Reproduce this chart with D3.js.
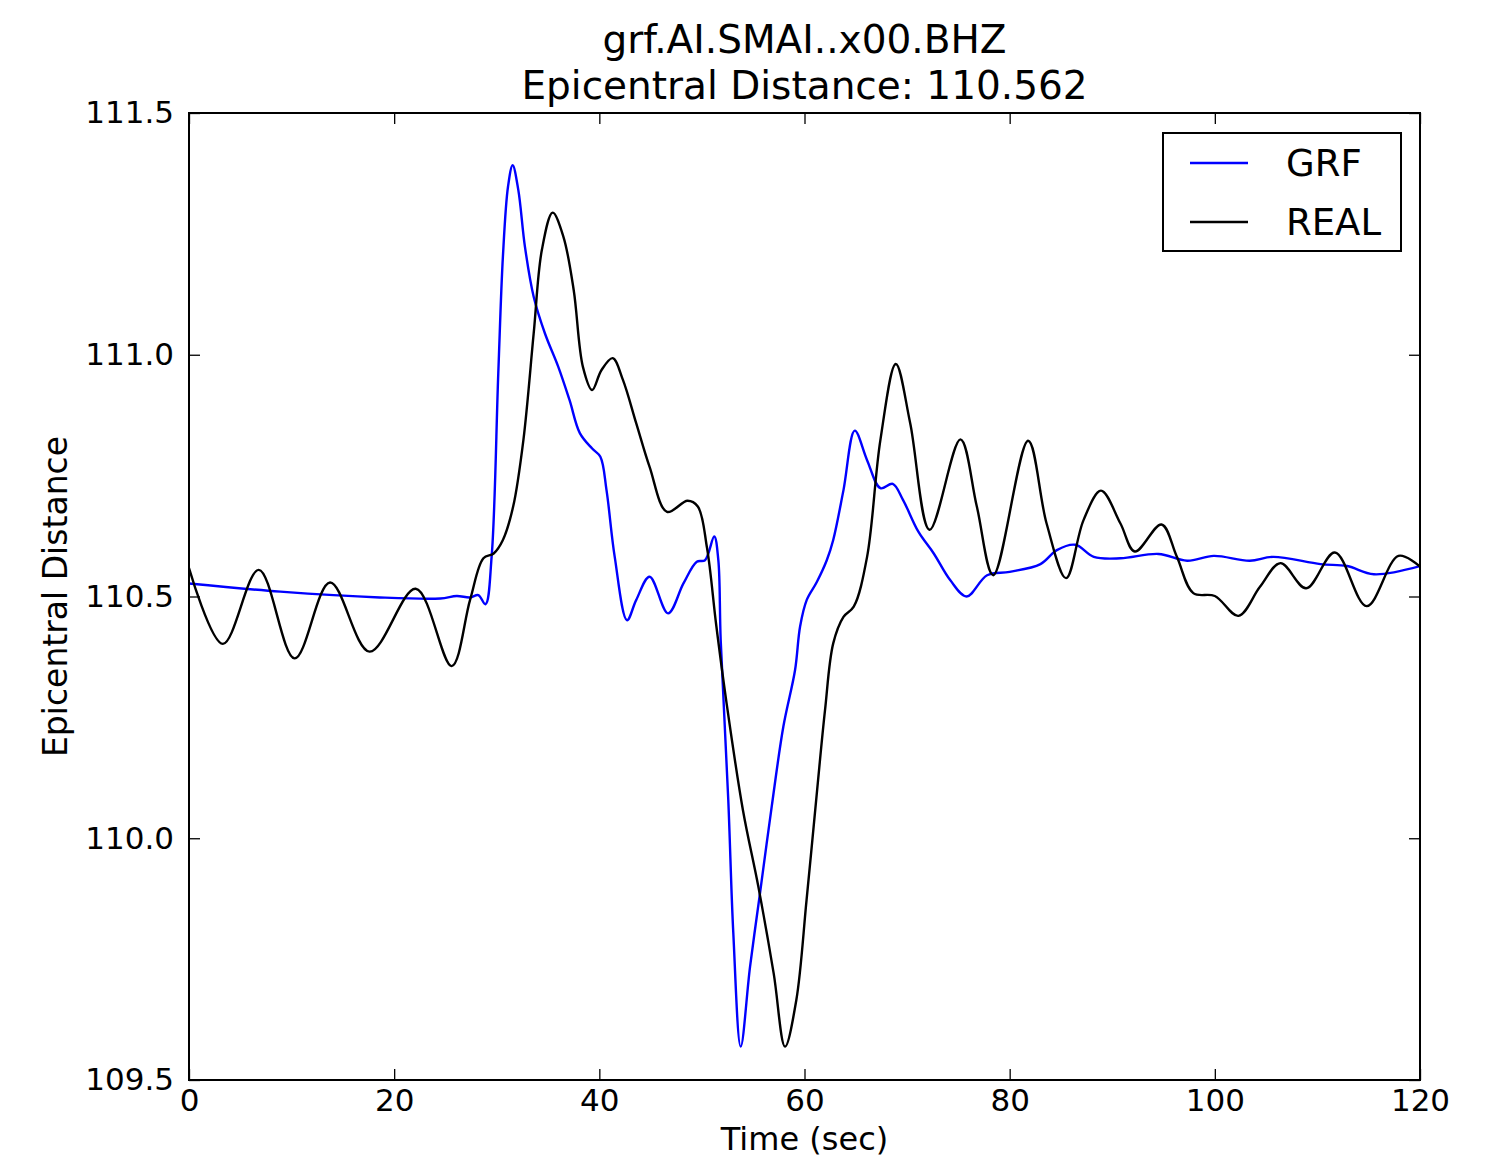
<!DOCTYPE html>
<html>
<head>
<meta charset="utf-8">
<script src="https://cdn.jsdelivr.net/npm/d3@7"></script>
<style>
  html, body { margin: 0; padding: 0; background: #fff; }
  svg { display: block; font-family: "DejaVu Sans", sans-serif; }
</style>
</head>
<body>
<svg id="chart" width="1487" height="1161"></svg>
<script>
// Trace times (sec) and epicentral-distance values for each series
const grfTime = [0, 8.9, 18.6, 24.5, 26.1, 27.4, 28.2, 28.9, 29.5, 30.15, 30.6, 31.1, 31.55, 32.1, 32.75,
  33.6, 34.7, 36.0, 37.1, 38.1, 39.3, 40.1, 40.7, 41.5, 42.7, 43.6, 44.9, 46.7, 48.2, 49.5, 50.3,
  51.2, 51.6, 51.83, 52.57, 53.06, 53.78, 54.69, 55.66, 56.8, 57.94, 59.08, 59.57, 60.22, 61.2,
  62.17, 62.8, 63.8, 64.9, 66.1, 67.4, 68.6, 69.6, 71.1, 72.6, 74.2, 75.8, 77.8, 80.0, 83.0, 84.6,
  86.4, 88.2, 90.8, 94.5, 97.3, 99.9, 103.4, 105.7, 110.3, 112.9, 115.5, 120];
const grfValue = [110.527, 110.51, 110.498, 110.496, 110.501, 110.498, 110.503, 110.484, 110.582, 110.962,
  111.203, 111.348, 111.392, 111.341, 111.223, 111.12, 111.044, 110.975, 110.906, 110.838, 110.806,
  110.789, 110.72, 110.582, 110.451, 110.493, 110.541, 110.465, 110.527, 110.572, 110.575, 110.624,
  110.575, 110.41, 110.079, 109.804, 109.569, 109.734, 109.886, 110.065, 110.231, 110.348, 110.438,
  110.493, 110.53, 110.575, 110.617, 110.72, 110.843, 110.782, 110.724, 110.733, 110.7, 110.634,
  110.589, 110.534, 110.5, 110.544, 110.551, 110.567, 110.596, 110.607, 110.582, 110.579, 110.588,
  110.574, 110.584, 110.574, 110.582, 110.567, 110.563, 110.546, 110.563];

const realTime = [0, 3.3, 6.8, 10.3, 13.75, 17.6, 22.1, 25.6, 27.4, 28.7, 29.7, 30.6, 31.6, 32.6, 33.6,
  34.4, 35.45, 36.5, 37.5, 38.4, 39.3, 40.2, 41.3, 42.3, 43.6, 44.9, 46.6, 48.6, 49.6, 50.5, 51.4,
  52.4, 54.0, 55.5, 57.0, 58.1, 59.2, 60.2, 61.2, 62.0, 62.8, 63.8, 64.8, 66.1, 67.4, 68.9, 70.3,
  72.2, 75.2, 76.8, 78.4, 81.8, 83.6, 85.5, 87.2, 88.9, 90.8, 92.2, 94.8, 96.3, 97.9, 100.0, 102.3,
  104.4, 106.4, 108.9, 111.7, 114.8, 117.9, 120];
const realValue = [110.559, 110.402, 110.555, 110.372, 110.529, 110.386, 110.516, 110.356, 110.493,
  110.579, 110.589, 110.617, 110.686, 110.824, 111.044, 111.217, 111.294, 111.244, 111.134, 110.975,
  110.927, 110.968, 110.993, 110.948, 110.858, 110.768, 110.675, 110.698, 110.686, 110.6, 110.44,
  110.28, 110.058, 109.9, 109.72, 109.569, 109.665, 109.872, 110.093, 110.265, 110.403, 110.458,
  110.479, 110.582, 110.824, 110.981, 110.859, 110.638, 110.825, 110.686, 110.544, 110.822, 110.651,
  110.538, 110.658, 110.719, 110.651, 110.593, 110.649, 110.582, 110.507, 110.501, 110.46, 110.52,
  110.569, 110.517, 110.591, 110.48, 110.584, 110.562];

const xTicks = [0, 20, 40, 60, 80, 100, 120];
const yTicks = [109.5, 110.0, 110.5, 111.0, 111.5];
const seriesNames = ["GRF", "REAL"];
const seriesColors = ["#0000ff", "#000000"];
const titleLines = ["grf.AI.SMAI..x00.BHZ", "Epicentral Distance: 110.562"];

const svg = d3.select("#chart");
const plot = { left: 189, right: 1420, top: 113, bottom: 1080 };

const x = d3.scaleLinear().domain([0, 120]).range([plot.left, plot.right]);
const y = d3.scaleLinear().domain([109.5, 111.5]).range([plot.bottom, plot.top]);

const series = [
  { name: seriesNames[0], color: seriesColors[0], pts: grfTime.map((t, i) => [t, grfValue[i]]) },
  { name: seriesNames[1], color: seriesColors[1], pts: realTime.map((t, i) => [t, realValue[i]]) }
];

svg.append("defs").append("clipPath").attr("id", "clip")
  .append("rect")
  .attr("x", plot.left).attr("y", plot.top)
  .attr("width", plot.right - plot.left).attr("height", plot.bottom - plot.top);

const line = d3.line()
  .x(d => x(d[0]))
  .y(d => y(d[1]))
  .curve(d3.curveCatmullRom.alpha(0.5));

svg.append("g").attr("clip-path", "url(#clip)")
  .selectAll("path")
  .data(series)
  .join("path")
  .attr("d", d => line(d.pts))
  .attr("fill", "none")
  .attr("stroke", d => d.color)
  .attr("stroke-width", 2.4)
  .attr("stroke-linejoin", "round");

// Axes with inward ticks on all four sides
const tickLen = 11;
const bottomAxis = d3.axisBottom(x).tickValues(xTicks).tickSizeInner(-tickLen).tickSizeOuter(0)
  .tickPadding(9).tickFormat(d3.format("d"));
const topAxis = d3.axisTop(x).tickValues(xTicks).tickSizeInner(-tickLen).tickSizeOuter(0).tickFormat("");
const leftAxis = d3.axisLeft(y).tickValues(yTicks).tickSizeInner(-tickLen).tickSizeOuter(0)
  .tickPadding(15).tickFormat(d3.format(".1f"));
const rightAxis = d3.axisRight(y).tickValues(yTicks).tickSizeInner(-tickLen).tickSizeOuter(0).tickFormat("");

function styleAxis(g) {
  g.select(".domain").remove();
  g.selectAll(".tick line").attr("stroke", "#000").attr("stroke-width", 1.3);
  g.selectAll(".tick text").attr("fill", "#000").style("font-size", "31px")
    .style("font-family", "'DejaVu Sans', sans-serif");
}

svg.append("g").attr("transform", `translate(0,${plot.bottom})`).call(bottomAxis).call(styleAxis);
svg.append("g").attr("transform", `translate(0,${plot.top})`).call(topAxis).call(styleAxis);
svg.append("g").attr("transform", `translate(${plot.left},0)`).call(leftAxis).call(styleAxis);
svg.append("g").attr("transform", `translate(${plot.right},0)`).call(rightAxis).call(styleAxis);

// Frame
svg.append("rect")
  .attr("x", plot.left).attr("y", plot.top)
  .attr("width", plot.right - plot.left).attr("height", plot.bottom - plot.top)
  .attr("fill", "none").attr("stroke", "#000").attr("stroke-width", 2);

// Title
const cx = (plot.left + plot.right) / 2;
svg.append("text").attr("x", cx).attr("y", 53).attr("text-anchor", "middle")
  .style("font-size", "39px").text(titleLines[0]);
svg.append("text").attr("x", cx).attr("y", 99).attr("text-anchor", "middle")
  .style("font-size", "39px").text(titleLines[1]);

// Axis labels
svg.append("text").attr("x", cx).attr("y", 1150).attr("text-anchor", "middle")
  .style("font-size", "32px").text("Time (sec)");
svg.append("text")
  .attr("transform", `translate(67,${(plot.top + plot.bottom) / 2}) rotate(-90)`)
  .attr("text-anchor", "middle")
  .style("font-size", "33px").text("Epicentral Distance");

// Legend
const legend = svg.append("g");
legend.append("rect")
  .attr("x", 1163).attr("y", 133).attr("width", 238).attr("height", 118)
  .attr("fill", "#fff").attr("stroke", "#000").attr("stroke-width", 2);
series.forEach((s, i) => {
  const ly = 163 + i * 59;
  legend.append("line")
    .attr("x1", 1190).attr("x2", 1248).attr("y1", ly).attr("y2", ly)
    .attr("stroke", s.color).attr("stroke-width", 2.4);
  legend.append("text")
    .attr("x", 1286).attr("y", ly).attr("dy", "0.36em")
    .style("font-size", "37px").text(s.name);
});
</script>
</body>
</html>
